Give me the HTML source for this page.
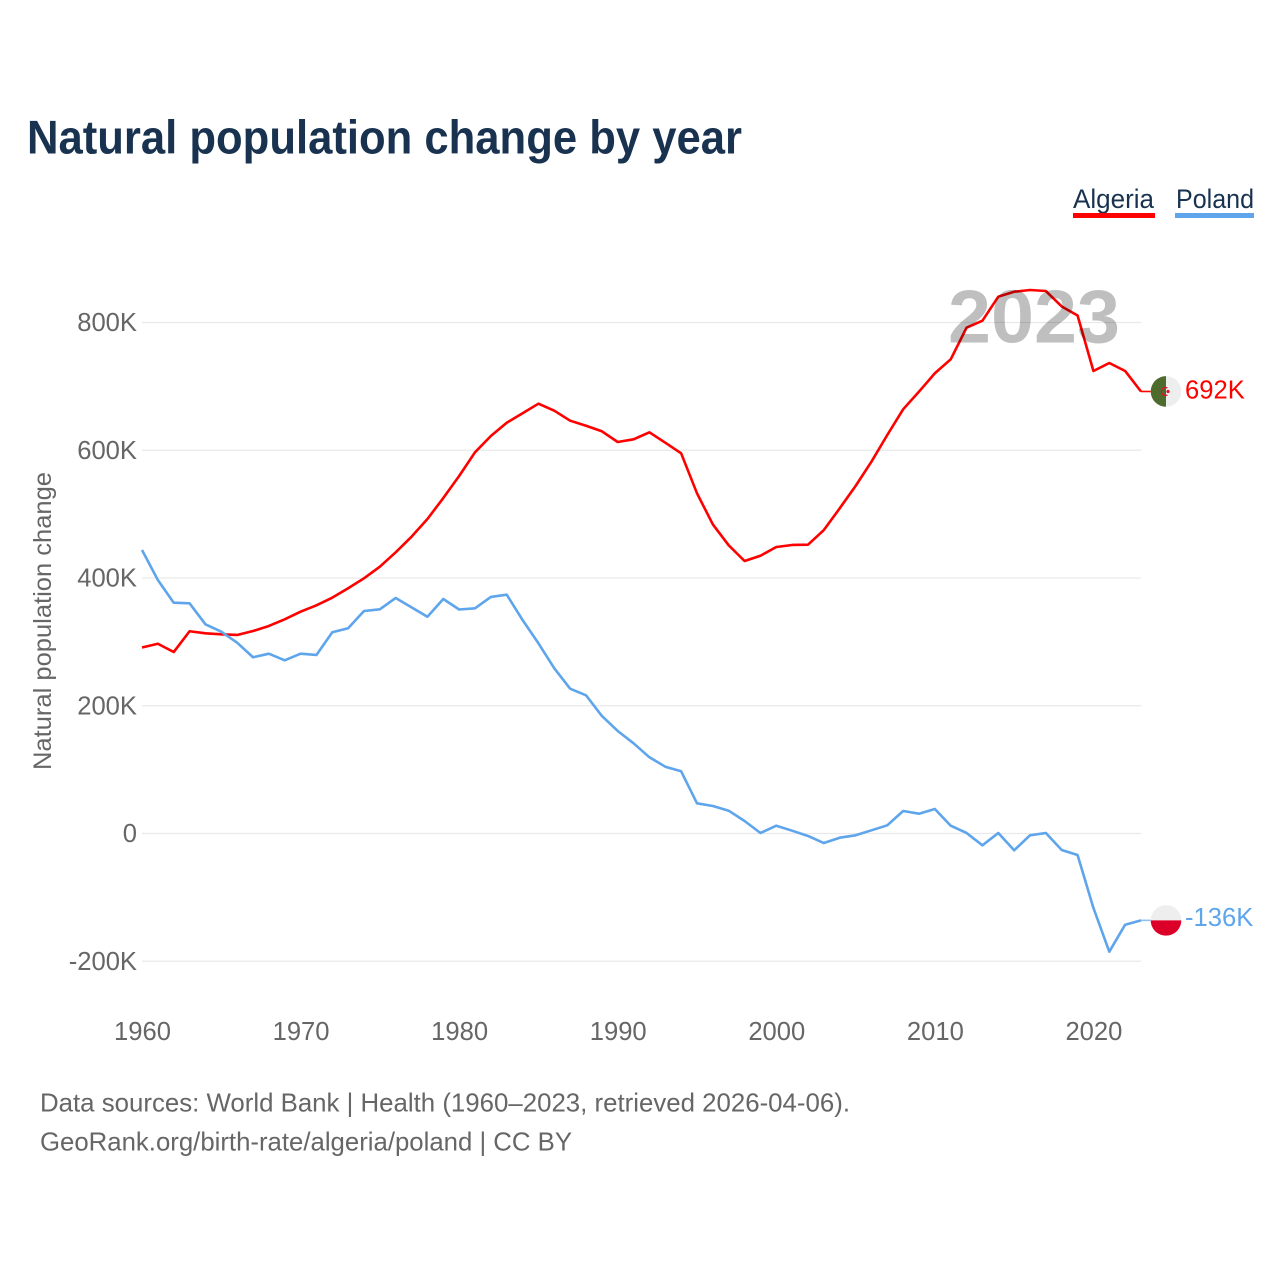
<!DOCTYPE html>
<html lang="en">
<head>
<meta charset="utf-8">
<title>Natural population change by year</title>
<style>
html,body{margin:0;padding:0;background:#fff;}
svg{display:block;font-family:"Liberation Sans",sans-serif;}
</style>
</head>
<body>
<svg id="chart" xmlns="http://www.w3.org/2000/svg" width="1280" height="1280" viewBox="0 0 1280 1280">
  <rect x="0" y="0" width="1280" height="1280" fill="#ffffff"/>
  <text x="27" y="153.5" font-size="47" font-weight="700" fill="#18324f" textLength="715" lengthAdjust="spacingAndGlyphs">Natural population change by year</text>

  <g>
    <g>
      <text x="1073" y="208" font-size="26.5" fill="#18324f" textLength="81" lengthAdjust="spacingAndGlyphs">Algeria</text>
      <rect x="1073" y="213" width="82" height="5" fill="#ff0000"/>
    </g>
    <g>
      <text x="1176" y="208" font-size="26.5" fill="#18324f" textLength="78" lengthAdjust="spacingAndGlyphs">Poland</text>
      <rect x="1175" y="213" width="79" height="5" fill="#5ea5ec"/>
    </g>
  </g>

  <text transform="translate(51,621) rotate(-90)" text-anchor="middle" font-size="25" fill="#666666" textLength="298" lengthAdjust="spacingAndGlyphs">Natural population change</text>

  <g id="grid"></g>
  <g id="yticks"></g>
  <g id="xticks"></g>
  <g id="series"></g>

  <text x="948" y="342.5" font-size="75" font-weight="700" fill="#000000" fill-opacity="0.25" textLength="172" lengthAdjust="spacingAndGlyphs">2023</text>

  <g id="endmarks"></g>

  <text x="40" y="1111.5" font-size="25.6" fill="#666666" textLength="810" lengthAdjust="spacingAndGlyphs">Data sources: World Bank | Health (1960–2023, retrieved 2026-04-06).</text>
  <text x="40" y="1150.5" font-size="25.6" fill="#666666" textLength="532" lengthAdjust="spacingAndGlyphs">GeoRank.org/birth-rate/algeria/poland | CC BY</text>
</svg>
<script>
const years = [1960,1961,1962,1963,1964,1965,1966,1967,1968,1969,1970,1971,1972,1973,1974,1975,1976,1977,1978,1979,1980,1981,1982,1983,1984,1985,1986,1987,1988,1989,1990,1991,1992,1993,1994,1995,1996,1997,1998,1999,2000,2001,2002,2003,2004,2005,2006,2007,2008,2009,2010,2011,2012,2013,2014,2015,2016,2017,2018,2019,2020,2021,2022,2023];
const algeriaValues = [291.2,297.1,284.1,316.6,313.4,311.9,310.8,317,324.9,335.3,347.2,357.3,369.2,383.9,399.5,417.7,440.2,464.7,492.4,525.2,559.7,596.8,622.3,643.1,657.9,672.9,661.9,646.3,638.4,629.7,612.9,617.1,628.1,611.8,595.2,532.6,483.8,451.2,426.6,434.9,448.5,451.7,452.1,475.1,509.1,544,582.1,623.9,664.1,691.7,720.5,742.4,791.9,802.8,840.4,848.2,850.9,849.3,825.1,811,724.1,736.6,724.1,692];
const polandValues = [443.8,396.9,361.3,360.4,327.5,315.9,298.7,275.9,281.5,271.2,281.5,279.5,315,321.3,348.3,351,368.7,354.1,339.4,367.1,350.7,352.6,370.3,373.9,334.2,297.8,258.6,226.7,216.4,184,160.5,141.2,119.3,104.6,97.4,47.3,43.1,35.7,19.6,0.8,12.2,4.4,-3.9,-14.9,-6.6,-2.8,5,12.8,35.2,31,38.4,12.2,0.8,-18.5,0.8,-26.3,-2.8,0.8,-25.8,-33.7,-116.6,-185,-142.8,-136];
const yTickValues = [-200,0,200,400,600,800];
const yTickLabels = ["-200K","0","200K","400K","600K","800K"];
const xTickValues = [1960,1970,1980,1990,2000,2010,2020];
const xTickLabels = ["1960","1970","1980","1990","2000","2010","2020"];

const NS = "http://www.w3.org/2000/svg";
function xScale(year){ return 142 + (year - 1960) * (1141 - 142) / 63; }
function yScale(v){ return 833.5 - v * 127.75 / 200; }
function make(tag, attrs, parent){
  const el = document.createElementNS(NS, tag);
  for (const k in attrs) el.setAttribute(k, attrs[k]);
  parent.appendChild(el);
  return el;
}

const grid = document.getElementById("grid");
const yticks = document.getElementById("yticks");
const xticks = document.getElementById("xticks");
const seriesGroup = document.getElementById("series");
const endmarks = document.getElementById("endmarks");

yTickValues.forEach(function(v, i){
  const line = make("line", {x1:142, x2:1141, y1:yScale(v), y2:yScale(v), stroke:"#e9e9e9", "stroke-width":1.2}, grid);
  
  
  const t = make("text", {x:137, y:yScale(v)+8.5, "text-anchor":"end", "font-size":25.6, fill:"#666666"}, yticks);
  t.textContent = yTickLabels[i];
  
  
});

xTickValues.forEach(function(v, i){
  const t = make("text", {x:xScale(v)+0.5, y:1040, "text-anchor":"middle", "font-size":25.6, fill:"#666666"}, xticks);
  t.textContent = xTickLabels[i];
  
  
});

function linePath(values){
  return values.map(function(v, i){
    return (i ? "L" : "M") + xScale(years[i]).toFixed(2) + " " + yScale(v).toFixed(2);
  }).join(" ");
}

const algeriaLine = make("path", {d:linePath(algeriaValues), fill:"none", stroke:"#ff0000", "stroke-width":2.6, "stroke-linejoin":"round"}, seriesGroup);


const polandLine = make("path", {d:linePath(polandValues), fill:"none", stroke:"#5ea5ec", "stroke-width":2.6, "stroke-linejoin":"round"}, seriesGroup);



const lastX = xScale(years[years.length-1]);
const algeriaEnd = algeriaValues[algeriaValues.length-1];
const polandEnd = polandValues[polandValues.length-1];
const ay = yScale(algeriaEnd);
const py = yScale(polandEnd);
const fx = 1166, fr = 15.3;

const aConn = make("line", {x1:lastX, x2:fx-fr, y1:ay, y2:ay, stroke:"#ff0000", "stroke-width":1.6}, endmarks);


const pConn = make("line", {x1:lastX, x2:fx-fr, y1:py, y2:py, stroke:"#5ea5ec", "stroke-width":1.6, "stroke-opacity":0.7}, endmarks);



/* Algeria flag */
const aFlag = make("g", {}, endmarks);


make("path", {d:"M"+fx+" "+(ay-fr)+" A"+fr+" "+fr+" 0 0 0 "+fx+" "+(ay+fr)+" Z", fill:"#4e6b2e"}, aFlag);
make("path", {d:"M"+fx+" "+(ay-fr)+" A"+fr+" "+fr+" 0 0 1 "+fx+" "+(ay+fr)+" Z", fill:"#eeeeee"}, aFlag);
make("path", {d:"M"+(fx+1.5)+" "+(ay-3.4)+" A4 4 0 1 0 "+(fx+1.5)+" "+(ay+3.4), fill:"none", stroke:"#e0102a", "stroke-width":1.3}, aFlag);
make("circle", {cx:fx+2, cy:ay, r:1.6, fill:"#e0102a"}, aFlag);

/* Poland flag */
const pFlag = make("g", {}, endmarks);


make("path", {d:"M"+(fx-fr)+" "+py+" A"+fr+" "+fr+" 0 0 1 "+(fx+fr)+" "+py+" Z", fill:"#eeeeee"}, pFlag);
make("path", {d:"M"+(fx-fr)+" "+py+" A"+fr+" "+fr+" 0 0 0 "+(fx+fr)+" "+py+" Z", fill:"#dc0028"}, pFlag);

const aLabel = make("text", {x:1185, y:ay+6.8, "font-size":25.6, fill:"#ff0000"}, endmarks);
aLabel.textContent = Math.round(algeriaEnd) + "K";


const pLabel = make("text", {x:1185, y:py+5.6, "font-size":25.6, fill:"#5ea5ec"}, endmarks);
pLabel.textContent = Math.round(polandEnd) + "K";


</script>
</body>
</html>
